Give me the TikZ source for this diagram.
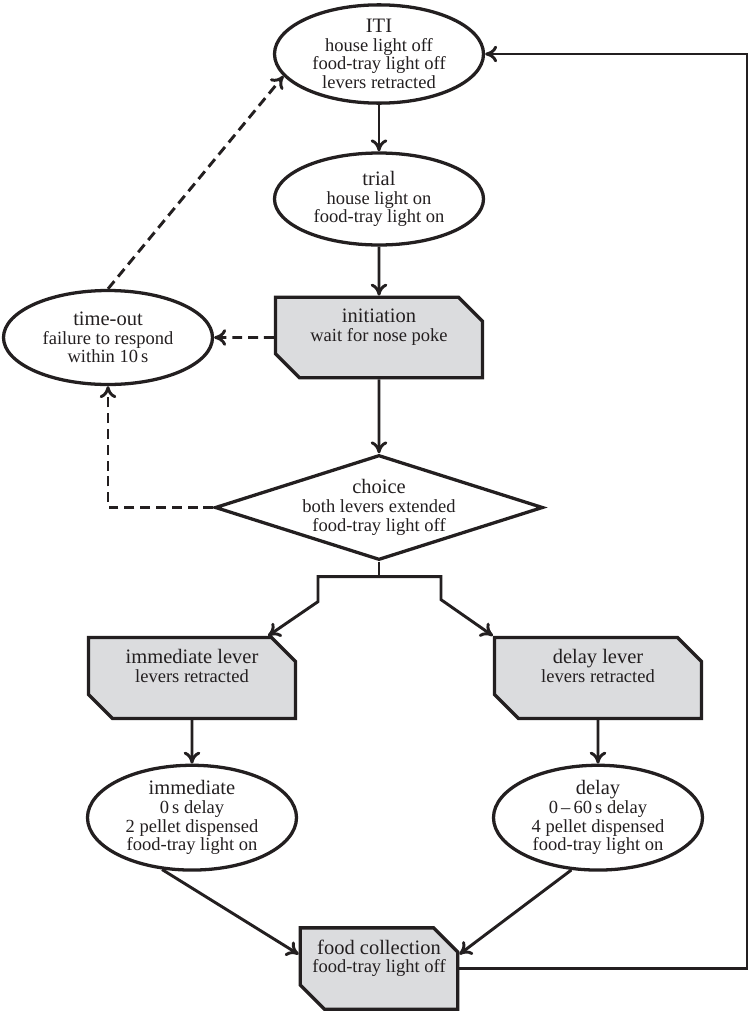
\documentclass[tikz,border=0pt]{standalone}
\usepackage{fontspec}
\setmainfont{Liberation Serif}
\usetikzlibrary{shapes.geometric,shapes.misc,arrows.meta,positioning}

\definecolor{ink}{RGB}{35,31,32}
\definecolor{boxgray}{RGB}{219,220,222}
\newcommand{\stagename}[1]{{\fontsize{17.5}{15.9}\selectfont #1}}

\begin{document}
\begin{tikzpicture}[
    node distance=4.35cm,
    every node/.style={align=center, text=ink, font=\fontsize{15.8}{15.9}\selectfont},
    state/.style={draw=ink, ellipse, line width=2.8pt, minimum width=6.27cm, minimum height=2.76cm, inner sep=0pt},
    stagebox/.style={draw=ink, fill=boxgray, chamfered rectangle, chamfered rectangle corners={north east,south west},
        chamfered rectangle xsep=0.36cm, chamfered rectangle ysep=0.36cm, line width=2.8pt,
        minimum width=6.21cm, minimum height=2.37cm, inner sep=0pt},
    decision/.style={draw=ink, diamond, aspect=3.12, line width=2.8pt, minimum width=9.84cm, minimum height=3.15cm, inner sep=0pt},
    arrow/.style={-{Computer Modern Rightarrow[length=3.6mm,width=5mm]}, draw=ink, line width=2.5pt},
    dasharrow/.style={arrow, dash pattern=on 8.5pt off 5pt}
]
\useasboundingbox (0,0) rectangle (22.5,-30.48);

% main column
\node[state] (iti) at (11.37,-1.62) {\stagename{ITI}\\house light off\\food-tray light off\\levers retracted};
\node[state] (trial) [below of=iti] {\stagename{trial}\\house light on\\food-tray light on};
\node[stagebox] (init) [below of=trial, node distance=4.155cm] {\stagename{initiation}\\wait for nose poke\\\strut};
\node[state, minimum height=2.82cm] (timeout) [left of=init, node distance=8.13cm] {\stagename{time-out}\\failure to respond\\within 10\,s};
\node[decision] (choice) [below of=init, node distance=5.1cm] {\stagename{choice}\\both levers extended\\food-tray light off};

% two levers
\node[stagebox] (immlever) at (5.76,-20.34) {\stagename{immediate lever}\\levers retracted\\\strut};
\node[stagebox] (delaylever) at (17.94,-20.34) {\stagename{delay lever}\\levers retracted\\\strut};
\node[state] (imm) [below of=immlever, node distance=4.19cm] {\stagename{immediate}\\0\,s delay\\2 pellet dispensed\\food-tray light on};
\node[state] (delay) [below of=delaylever, node distance=4.19cm] {\stagename{delay}\\0\,--\,60\,s delay\\4 pellet dispensed\\food-tray light on};
\node[stagebox, minimum width=4.71cm] (food) [below of=choice, node distance=13.83cm] {\stagename{food collection}\\food-tray light off\\\strut};

\coordinate (ret) at (22.41,-15);

\draw[arrow] (iti) -- (trial);
\draw[arrow] (trial) -- (init);
\draw[arrow] (init) -- (choice);
\draw[dasharrow] (init) -- (timeout);
\draw[dasharrow] (choice.west) -| (timeout.south);
\draw[dasharrow] (timeout.north) -- (iti.193);

% split after choice
\draw[draw=ink, line width=2.5pt] (choice.south) -- ++(0,-0.45) coordinate (fork);
\draw[arrow] (fork) -| ++(-1.83,-0.75) -- (immlever.29);
\draw[arrow] (fork) -| ++(1.86,-0.69) -- (delaylever.north west);
\draw[arrow] (immlever) -- (imm);
\draw[arrow] (delaylever) -- (delay);
\draw[arrow] (imm.240) -- (food.170);
\draw[arrow] (delay.243) -- (food.10);
\draw[arrow] (food.east) -| (ret) |- (iti.east);
\end{tikzpicture}
\end{document}
